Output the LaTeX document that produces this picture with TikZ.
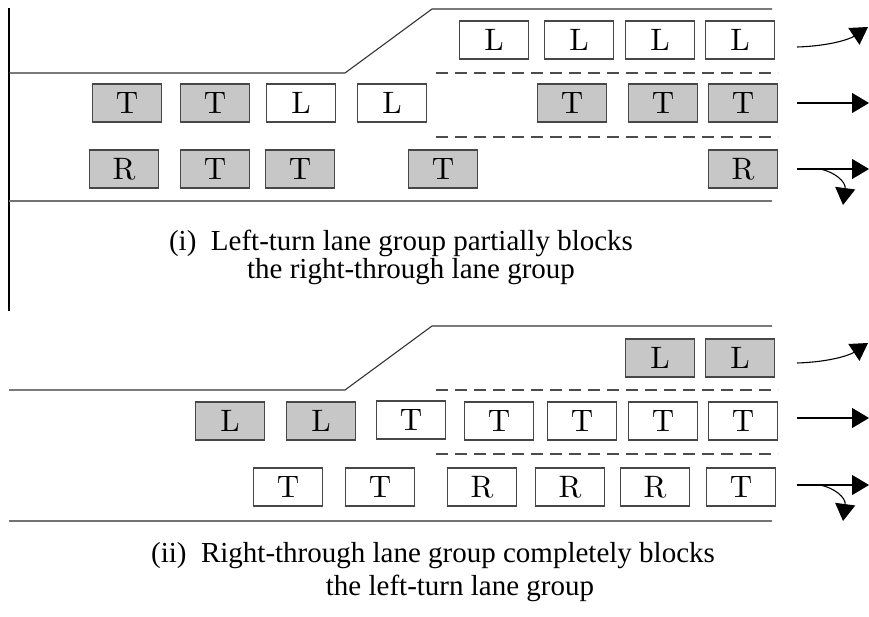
\documentclass[tikz,border=0pt]{standalone}
\usepackage{fontspec}
\setmainfont{Liberation Serif}
\newfontfamily\boxfont{lmroman10}[Extension=.otf,UprightFont=*-regular]
\usetikzlibrary{arrows.meta}
\begin{document}
\begin{tikzpicture}[x=1pt,y=-1pt,
  car/.style={draw=black!72,line width=1.1pt,minimum width=69pt,minimum height=38pt,
    inner sep=0pt,fill=white,font=\boxfont\fontsize{31}{31}\selectfont},
  queued/.style={car,fill=black!22},
  road/.style={draw=black!80,line width=1.1pt},
  edge/.style={draw=black!55,line width=1.9pt},
  lanemark/.style={draw=black!70,line width=1.1pt,dash pattern=on 12pt off 7pt},
  move/.style={draw=black,line width=1.1pt,-{Triangle[length=17pt,width=20pt]}},
  caption/.style={font=\fontsize{29}{29}\selectfont,align=center,inner sep=0pt}]
\useasboundingbox (0,0) rectangle (869,617);

% left border
\draw[line width=1.1pt] (9,8) -- (9,311);

% ---------- panel (i) ----------
\draw[road] (9,73) -- (345,73) -- (432,9) -- (772,9);
\draw[lanemark] (436,73) -- (778,73);
\draw[lanemark] (436,137) -- (778,137);
\draw[edge] (9,201) -- (772,201);

% left-turn lane
\node[car] (a1) at (494,40) {L};
\node[car] (a2) at (579,40) {L};
\node[car] (a3) at (660,40) {L};
\node[car] (a4) at (740,40) {L};
% through lane
\node[queued] (b1) at (127,103) {T};
\node[queued] (b2) at (215,103) {T};
\node[car]    (b3) at (301,103) {L};
\node[car]    (b4) at (392,103) {L};
\node[queued] (b5) at (572,103) {T};
\node[queued] (b6) at (663,103) {T};
\node[queued] (b7) at (743,103) {T};
% right-through lane
\node[queued] (c1) at (124,169) {R};
\node[queued] (c2) at (215,169) {T};
\node[queued] (c3) at (300,169) {T};
\node[queued] (c4) at (443,169) {T};
\node[queued] (c5) at (743,169) {R};

% movement arrows
\coordinate (p1s) at (797,47);  \coordinate (p1e) at (868,27);
\coordinate (p2s) at (797,103); \coordinate (p2e) at (869,103);
\coordinate (p3s) at (797,169); \coordinate (p3e) at (869,169);
\coordinate (p3b) at (820,169); \coordinate (p3d) at (843,205);
\draw[move] (p1s) .. controls (830,46) and (850,39) .. (p1e);
\draw[move] (p2s) -- (p2e);
\draw[move] (p3s) -- (p3e);
\draw[move] (p3b) .. controls (835,172) and (846,182) .. (p3d);

\node[caption] (capA1) at (401,243) {(i)\ \ Left-turn lane group partially blocks};
\node[caption] (capA2) at (411,272) {the right-through lane group};

% ---------- panel (ii) ----------
\draw[road] (9,390) -- (345,390) -- (432,326) -- (772,326);
\draw[lanemark] (436,390) -- (778,390);
\draw[lanemark] (436,454) -- (778,454);
\draw[edge] (9,521) -- (772,521);

% left-turn lane
\node[queued] (d1) at (660,358) {L};
\node[queued] (d2) at (740,358) {L};
% through lane
\node[queued] (e1) at (230,421) {L};
\node[queued] (e2) at (321,421) {L};
\node[car]    (e3) at (411,420) {T};
\node[car]    (e4) at (499,421) {T};
\node[car]    (e5) at (582,421) {T};
\node[car]    (e6) at (663,421) {T};
\node[car]    (e7) at (743,421) {T};
% right-through lane
\node[car] (f1) at (288,487) {T};
\node[car] (f2) at (380,487) {T};
\node[car] (f3) at (482,487) {R};
\node[car] (f4) at (570,487) {R};
\node[car] (f5) at (655,487) {R};
\node[car] (f6) at (741,487) {T};

% movement arrows
\coordinate (q1s) at (797,363); \coordinate (q1e) at (868,343);
\coordinate (q2s) at (797,418); \coordinate (q2e) at (869,418);
\coordinate (q3s) at (797,485); \coordinate (q3e) at (869,485);
\coordinate (q3b) at (820,485); \coordinate (q3d) at (843,521);
\draw[move] (q1s) .. controls (830,362) and (850,355) .. (q1e);
\draw[move] (q2s) -- (q2e);
\draw[move] (q3s) -- (q3e);
\draw[move] (q3b) .. controls (835,488) and (846,498) .. (q3d);

\node[caption] (capB1) at (433,556) {(ii)\ \ Right-through lane group completely blocks};
\node[caption] (capB2) at (460,588) {the left-turn lane group};
\end{tikzpicture}
\end{document}
